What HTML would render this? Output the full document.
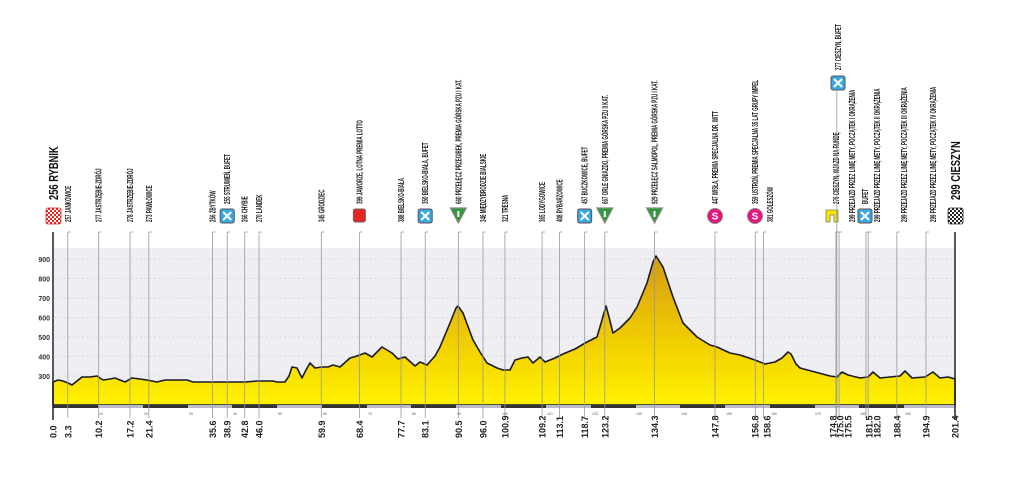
<!DOCTYPE html>
<html><head><meta charset="utf-8"><style>
html,body{margin:0;padding:0;background:#fff;width:1009px;height:500px;overflow:hidden}
svg text{font-family:"Liberation Sans",sans-serif}
.t{font-size:8.5px;font-weight:bold;fill:#1a1a1a}
.b{font-size:9px;font-weight:bold;fill:#222}
</style></head><body>
<svg width="1009" height="500" viewBox="0 0 1009 500" xmlns="http://www.w3.org/2000/svg">
<defs>
<linearGradient id="g" gradientUnits="userSpaceOnUse" x1="0" y1="405" x2="0" y2="255">
<stop offset="0" stop-color="#fff200"/><stop offset="0.4" stop-color="#f2d000"/><stop offset="1" stop-color="#d49a14"/>
</linearGradient>
<pattern id="chk" width="4" height="4" patternUnits="userSpaceOnUse"><rect width="4" height="4" fill="#fff"/><rect width="2" height="2" fill="#e52320"/><rect x="2" y="2" width="2" height="2" fill="#e52320"/></pattern>
<pattern id="chkb" width="4" height="4" patternUnits="userSpaceOnUse"><rect width="4" height="4" fill="#fff"/><rect width="2" height="2" fill="#222"/><rect x="2" y="2" width="2" height="2" fill="#222"/></pattern>
<g id="feed"><rect x="-7" y="-7" width="14" height="14" rx="2" fill="#3aa8e0" stroke="#555" stroke-width="1"/><path d="M-4,-4L4,4M4,-4L-4,4" stroke="#fff" stroke-width="2"/></g>
<g id="tri"><path d="M-8,-7L8,-7L0,8Z" fill="#2e9a3a" stroke="#888" stroke-width="1.2"/><rect x="-1" y="-4" width="2" height="6" fill="#fff"/></g>
<g id="ess"><circle r="7.5" fill="#e5177e" stroke="#888" stroke-width="1"/><text x="0" y="3.5" text-anchor="middle" font-size="10" font-weight="bold" fill="#fff">S</text></g>
</defs>
<rect x="54" y="248" width="901" height="159" fill="#efeff3"/>
<g stroke="#ccc" stroke-width="0.8" stroke-dasharray="1.5,3">
<line x1="55" y1="259" x2="955" y2="259"/><line x1="55" y1="278.5" x2="955" y2="278.5"/><line x1="55" y1="298" x2="955" y2="298"/><line x1="55" y1="317.5" x2="955" y2="317.5"/><line x1="55" y1="337" x2="955" y2="337"/><line x1="55" y1="356.5" x2="955" y2="356.5"/><line x1="55" y1="376" x2="955" y2="376"/>
</g>
<g font-size="7" font-weight="bold" fill="#333" text-anchor="end" style="font-family:'Liberation Sans',sans-serif">
<text x="50" y="262">900</text><text x="50" y="281.5">800</text><text x="50" y="301">700</text><text x="50" y="320.5">600</text><text x="50" y="340">500</text><text x="50" y="359.5">400</text><text x="50" y="379">300</text>
</g>
<path d="M53,382 L58,380 L63,381 L68,383 L72,385 L77,381 L82,377 L90,377 L97,376 L103,380 L110,379 L115,378 L120,380 L125,382 L132,378 L140,379 L147,380 L152,381 L157,382 L165,380 L175,380 L187,380 L193,382 L205,382 L233,382 L245,382 L257,381 L266,381 L273,381 L277,382 L285,382 L289,376 L292,367 L297,368 L300,374 L302,378 L306,370 L310,363 L315,368 L322,367 L328,367 L333,365 L340,367 L350,358 L357,356 L365,353 L372,357 L382,347 L392,353 L398,359 L405,357 L415,366 L420,362 L427,365 L435,356 L440,347 L450,323 L456,308 L458,306 L463,313 L473,340 L480,352 L487,363 L497,368 L503,370 L510,370 L515,360 L522,358 L528,357 L533,363 L540,357 L545,362 L555,358 L563,354 L575,349 L587,342 L597,337 L602,320 L606,306 L609,317 L613,333 L620,328 L630,318 L637,307 L647,283 L653,262 L656,256 L663,267 L673,297 L683,323 L697,337 L710,345 L717,347 L730,353 L740,355 L755,360 L765,364 L775,362 L782,358 L788,352 L791,354 L796,364 L800,368 L815,372 L830,376 L837,377 L842,372 L848,375 L860,378 L868,377 L873,372 L880,378 L890,377 L900,376 L905,371 L912,378 L925,377 L933,372 L940,378 L948,377 L955,379 L955,405 L53,405 Z" fill="url(#g)" stroke="#1a1a2a" stroke-width="1.6" stroke-linejoin="round"/>
<g fill="#333">
<rect x="53" y="405" width="45" height="3"/><rect x="143" y="405" width="45" height="3"/><rect x="232" y="405" width="45" height="3"/><rect x="322" y="405" width="45" height="3"/><rect x="411" y="405" width="45" height="3"/><rect x="501" y="405" width="45" height="3"/><rect x="591" y="405" width="45" height="3"/><rect x="680" y="405" width="45" height="3"/><rect x="770" y="405" width="45" height="3"/><rect x="859" y="405" width="45" height="3"/>
</g>
<g fill="#bbc" ><rect x="98" y="405" width="45" height="3"/><rect x="188" y="405" width="44" height="3"/><rect x="277" y="405" width="45" height="3"/><rect x="367" y="405" width="44" height="3"/><rect x="456" y="405" width="45" height="3"/><rect x="546" y="405" width="45" height="3"/><rect x="636" y="405" width="44" height="3"/><rect x="725" y="405" width="45" height="3"/><rect x="815" y="405" width="44" height="3"/><rect x="904" y="405" width="51" height="3"/></g>
<g font-size="3.5" fill="#555" style="font-family:'Liberation Sans',sans-serif">
<text x="99" y="415">10</text><text x="144" y="415">20</text><text x="189" y="415">30</text><text x="233" y="415">40</text><text x="278" y="415">50</text><text x="323" y="415">60</text><text x="368" y="415">70</text><text x="412" y="415">80</text><text x="457" y="415">90</text><text x="502" y="415">100</text><text x="547" y="415">110</text><text x="592" y="415">120</text><text x="636" y="415">130</text><text x="681" y="415">140</text><text x="726" y="415">150</text><text x="771" y="415">160</text><text x="815" y="415">170</text><text x="860" y="415">180</text><text x="905" y="415">190</text>
</g>
<line x1="53" y1="232" x2="53" y2="420" stroke="#222" stroke-width="1.5"/>
<line x1="955" y1="232" x2="955" y2="420" stroke="#222" stroke-width="1.5"/>
<g stroke="#999" stroke-width="0.8" fill="none" id="lines"></g>
<g id="labels"></g>
<script>
var d=[[0,"256 RYBNIK","start"],[3.3,"257 JANKOWICE"],[10.2,"277 JASTRZĘBIE-ZDRÓJ"],[17.2,"278 JASTRZĘBIE-ZDRÓJ"],[21.4,"273 PAWŁOWICE"],[35.6,"256 ZBYTKÓW"],[38.9,"255 STRUMIEŃ, BUFET","feed"],[42.8,"266 CHYBIE"],[46.0,"270 LANDEK"],[59.9,"345 GRODZIEC"],[68.4,"399 JAWORZE, LOTNA PREMIA LOTTO","red"],[77.7,"388 BIELSKO-BIAŁA"],[83.1,"350 BIELSKO-BIAŁA, BUFET","feed"],[90.5,"660 PRZEŁĘCZ PRZEGIBEK, PREMIA GÓRSKA PZU I KAT.","tri"],[96.0,"346 MIĘDZYBRODZIE BIALSKIE"],[100.9,"321 TRESNA"],[109.2,"365 LODYGOWICE"],[113.1,"408 RYBARZOWICE"],[118.7,"457 BUCZKOWICE, BUFET","feed"],[123.2,"667 ORLE GNIAZDO, PREMIA GÓRSKA PZU II KAT.","tri"],[134.3,"929 PRZEŁĘCZ SALMOPOL, PREMIA GÓRSKA PZU I KAT.","tri"],[147.8,"447 WISŁA, PREMIA SPECJALNA DR. WITT","ess"],[156.8,"359 USTROŃ, PREMIA SPECJALNA 35 LAT GRUPY IMPEL","ess",755,755],[158.6,"381 GOLESZÓW","",770,767],[174.8,"276 CIESZYN, WJAZD NA RUNDĘ","yel",836,833],[175.0,"277 CIESZYN, BUFET","feedhi",838,840],[175.5,"299 PRZEJAZD PRZEZ LINIĘ METY, POCZĄTEK I OKRĄŻENIA","",852,848],[181.5,"BUFET","feed",865,869],[182.0,"299 PRZEJAZD PRZEZ LINIĘ METY, POCZĄTEK II OKRĄŻENIA","",877,877],[188.4,"299 PRZEJAZD PRZEZ LINIĘ METY, POCZĄTEK III OKRĄŻENIA","",904],[194.9,"299 PRZEJAZD PRZEZ LINIĘ METY, POCZĄTEK IV OKRĄŻENIA","",933],[201.4,"299 CIESZYN","end"]];
var NS="http://www.w3.org/2000/svg",L=document.getElementById("lines"),T=document.getElementById("labels");
function el(n,a,p,txt){var e=document.createElementNS(NS,n);for(var k in a)e.setAttribute(k,a[k]);if(txt)e.textContent=txt;(p||T).appendChild(e);return e;}
d.forEach(function(r){var km=r[0],x=53+km*4.479,ic=r[2]||"";
 if(km>0&&km<201.4){el("line",{x1:x,y1:232,x2:x,y2:418},L);el("line",{x1:x,y1:232,x2:x+3,y2:232},L);}
 var bc=r[4]||x;el("text",{"class":"b",transform:"translate("+(bc+3.5)+",438) rotate(-90)"},T,km.toFixed(1));
 var ly=222,tx=r[3]||x,lx=tx+3;
 if(ic=="start"||ic=="end"){
   el("rect",{x:x-7,y:208,width:15,height:16,rx:2,fill:ic=="start"?"url(#chk)":"url(#chkb)",stroke:ic=="start"?"#e52320":"#333","stroke-width":0.8});
   el("text",{transform:"translate("+(x+5)+",200) rotate(-90) scale(0.72,1)","font-size":"13","font-weight":"bold",fill:"#111"},T,r[1]);return;}
 if(ic=="feed"){el("use",{href:"#feed",transform:"translate("+tx+",216)"});ly=204;}
 if(ic=="tri"){el("use",{href:"#tri",transform:"translate("+tx+",215)"});ly=204;}
 if(ic=="ess"){el("use",{href:"#ess",transform:"translate("+tx+",216)"});ly=204;}
 if(ic=="red"){el("rect",{x:tx-6,y:209,width:12,height:13,rx:2,fill:"#e52320",stroke:"#666","stroke-width":1});ly=204;}
 if(ic=="yel"){var a=tx-4;el("path",{d:"M"+(a-6)+",222 L"+(a-6)+",210 L"+(a+6)+",210 L"+(a+6)+",222 L"+(a+2)+",222 L"+(a+2)+",215 L"+(a-2)+",215 L"+(a-2)+",222Z",fill:"#f7e600",stroke:"#777","stroke-width":0.8});ly=204;}
 if(ic=="feedhi"){el("use",{href:"#feed",transform:"translate("+tx+",83)"});el("line",{x1:x,y1:91,x2:x,y2:232,stroke:"#999","stroke-width":0.8});ly=70;}
 el("text",{"class":"t",transform:"translate("+lx+","+ly+") rotate(-90) scale(0.53,1)"},T,r[1]);
});
</script>
</svg>
</body></html>
